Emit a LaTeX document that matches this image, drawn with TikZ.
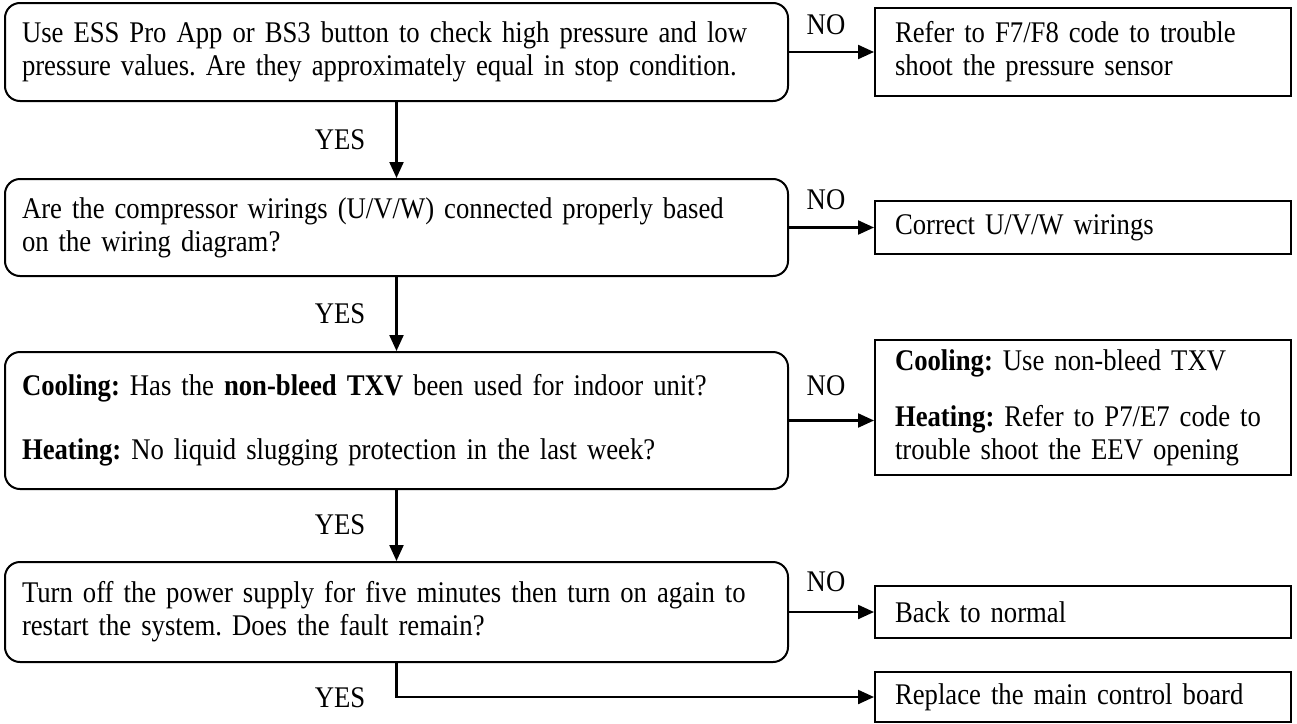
\documentclass[tikz,border=0pt]{standalone}
\usepackage{fontspec}
\setmainfont{Liberation Serif}[FakeStretch=0.89]
\usetikzlibrary{arrows.meta}
\newcommand{\boxfont}{\fontsize{30}{33}\selectfont\frenchspacing\spaceskip=6pt plus 2pt minus 1pt\relax}
\tikzset{
  qbox/.style={draw, line width=2pt, rounded corners=15pt, minimum width=783pt, text width=749pt, inner xsep=17pt, align=left, font=\boxfont},
  abox/.style={draw, line width=2pt, minimum width=416pt, text width=376pt, inner xsep=20pt, align=left, font=\boxfont},
  lbl/.style={font=\boxfont, inner sep=0pt},
  arr/.style={line width=2.2pt, -{Triangle[length=16pt,width=14pt]}}
}
\begin{document}
\begin{tikzpicture}[x=1pt,y=-1pt]
\useasboundingbox (0,0) rectangle (1297,723);
\node[qbox, minimum height=98pt] (b1) at (396.5,52) {Use ESS Pro App or BS3 button to check high pressure and low\\pressure values. Are they approximately equal in stop condition.};
\node[qbox, minimum height=97pt] (b2) at (396.5,227.5) {Are the compressor wirings (U/V/W) connected properly based\\on the wiring diagram?};
\node[qbox, minimum height=137pt] (b3) at (396.5,420.5) {\textbf{Cooling:} Has the \textbf{non-bleed TXV} been used for indoor unit?\\[31pt]\textbf{Heating:} No liquid slugging protection in the last week?};
\node[qbox, minimum height=100pt] (b4) at (396.5,612) {Turn off the power supply for five minutes then turn on again to\\restart the system. Does the fault remain?};

\node[abox, minimum height=88pt] (r1) at (1083,52) {Refer to F7/F8 code to trouble\\shoot the pressure sensor};
\node[abox, minimum height=53pt] (r2) at (1083,227.5) {Correct U/V/W wirings};
\node[abox, minimum height=135pt] (r3) at (1083,407.5) {\textbf{Cooling:} Use non-bleed TXV\\[23pt]\textbf{Heating:} Refer to P7/E7 code to\\trouble shoot the EEV opening};
\node[abox, minimum height=52pt] (r4) at (1083,612) {Back to normal};
\node[abox, minimum height=50pt] (r5) at (1083,697) {Replace the main control board};

\draw[arr] (b1.south) -- (b2.north);
\draw[arr] (b2.south) -- (b3.north);
\draw[arr] (b3.south) -- (b4.north);
\draw[arr] (b4.south) |- (r5.west);

\draw[arr] (b1.east) -- (b1.east -| r1.west);
\draw[arr] (b2.east) -- (b2.east -| r2.west);
\draw[arr] (b3.east) -- (b3.east -| r3.west);
\draw[arr] (b4.east) -- (b4.east -| r4.west);

\node[lbl] (y1) at (340,140) {YES};
\node[lbl] (y2) at (340,314) {YES};
\node[lbl] (y3) at (340,525) {YES};
\node[lbl] (y4) at (340,698) {YES};
\node[lbl] (n1) at (826,25) {NO};
\node[lbl] (n2) at (826,200) {NO};
\node[lbl] (n3) at (826,386) {NO};
\node[lbl] (n4) at (826,582) {NO};
\end{tikzpicture}
\end{document}
